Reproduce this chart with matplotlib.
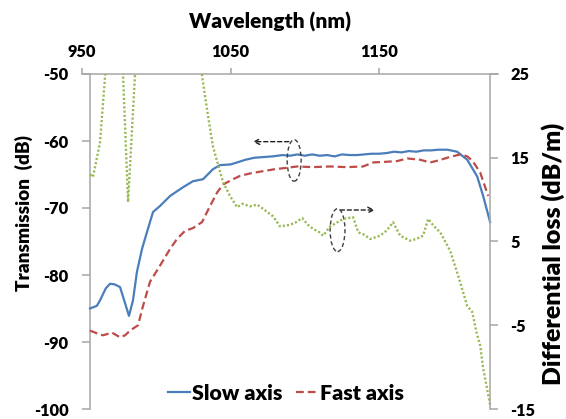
import matplotlib
matplotlib.use("Agg")
import matplotlib.pyplot as plt
from matplotlib.patches import Ellipse

WEIGHT = 'heavy'
plt.rcParams['font.family'] = ['Lato', 'DejaVu Sans']
plt.rcParams['font.weight'] = WEIGHT
plt.rcParams['axes.unicode_minus'] = False

# ---- data ----
slow_wl = [955.4, 960, 962.1, 966, 968.9, 972, 975.6, 978, 981.6, 984.3, 987.0, 990.4, 994.4,
           997.8, 1002.5, 1009.3, 1018.0, 1024.7, 1031.5, 1038.2, 1042.9, 1050, 1054.4, 1060,
           1066, 1072, 1078, 1085, 1090, 1095, 1100, 1105, 1110, 1115, 1120, 1125, 1130, 1135,
           1140, 1145, 1150, 1155, 1160, 1165, 1170, 1175, 1180, 1185, 1190, 1196, 1202.5,
           1209.3, 1216, 1220, 1224.7]
slow_db = [-85.0, -84.6, -83.8, -82.0, -81.3, -81.4, -81.8, -83.5, -86.1, -83.8, -79.5, -76.1,
           -73.1, -70.6, -69.7, -68.2, -66.9, -66.0, -65.7, -64.2, -63.6, -63.5, -63.2, -62.8,
           -62.5, -62.4, -62.3, -62.1, -62.2, -62.0, -62.2, -62.0, -62.2, -62.1, -62.3, -62.0,
           -62.1, -62.1, -62.0, -61.9, -61.9, -61.8, -61.6, -61.7, -61.5, -61.6, -61.4, -61.4,
           -61.3, -61.3, -61.6, -62.8, -65.3, -68.2, -72.1]

fast_wl = [955.4, 960, 964.1, 970.2, 975.6, 979, 982.3, 987.7, 991.1, 995.8, 1002.5, 1009.3,
           1014, 1019.4, 1024.7, 1030.8, 1036.2, 1040.9, 1044.9, 1051.7, 1056.4, 1064, 1071.9,
           1080, 1088, 1094.8, 1105, 1117, 1128, 1139.2, 1146, 1155, 1162.1, 1168.9, 1177.6,
           1184.3, 1190, 1195.8, 1204.5, 1209.3, 1213, 1218, 1223.4]
fast_db = [-88.3, -88.7, -89.0, -88.6, -89.3, -89.0, -88.3, -87.5, -84.6, -81.0, -78.6, -76.1,
           -74.6, -73.4, -73.0, -72.1, -69.7, -67.7, -66.5, -65.7, -65.2, -64.8, -64.5, -64.2,
           -64.0, -63.8, -63.9, -63.8, -63.9, -63.8, -63.2, -63.1, -63.0, -62.6, -62.8, -63.2,
           -62.9, -62.5, -62.0, -62.3, -63.0, -64.7, -68.2]

diff_wl = [955.4, 957.4, 962.1, 965.5, 968, 975, 977.6, 981, 985.7, 988, 1027, 1030.8, 1034.2,
           1038.2, 1044.9, 1049.7, 1054.4, 1058, 1063.1, 1068, 1071.9, 1078.6, 1083.3, 1090.1,
           1094, 1098.2, 1102, 1105.6, 1109, 1112.3, 1117, 1121, 1125.8, 1132.5, 1135.9, 1140,
           1144, 1150.7, 1155, 1159.4, 1164.1, 1170.9, 1175, 1179.6, 1183, 1187, 1191.1,
           1197.8, 1203.2, 1209.3, 1212.6, 1216, 1218, 1220, 1223.4, 1224.7]
diff_loss = [13.0, 12.7, 16.8, 24.6, 33, 33, 25, 9.7, 25, 33, 33, 24.8, 20.7, 16.3, 12.1, 10.4,
             9.1, 9.5, 9.2, 9.4, 8.9, 8.0, 6.8, 7.0, 7.3, 7.8, 7.0, 6.5, 6.2, 5.7, 6.8, 7.2, 7.7,
             7.9, 6.1, 5.8, 5.3, 5.7, 6.3, 7.3, 5.7, 5.1, 5.3, 5.7, 7.7, 6.8, 6.1, 3.9, 0.9,
             -2.7, -3.4, -6.2, -7.4, -10.1, -13.3, -14.5]

x_ticks = [950, 1050, 1150]
left_ticks = [-100, -90, -80, -70, -60, -50]
right_ticks = [-15, -5, 5, 15, 25]

# ---- figure ----
W, H = 566, 419
fig = plt.figure(figsize=(W / 100, H / 100), dpi=100)
ax = fig.add_axes([82 / W, 10 / H, 416 / W, 335 / H])
ax2 = ax.twinx()
renderer = fig.canvas.get_renderer()


def fit(t, target, dim='w'):
    for _ in range(3):
        bb = t.get_window_extent(renderer)
        cur = bb.width if dim == 'w' else bb.height
        t.set_fontsize(t.get_fontsize() * target / cur)
    return t.get_fontsize()


def measure_size(s, target):
    t = fig.text(0.5, 0.5, s, fontsize=12, fontweight=WEIGHT)
    size = fit(t, target)
    t.remove()
    return size


tick_fs = measure_size('1050', 38)
leg_fs = measure_size('Fast axis', 84)

spine_c = '#a6a6a6'
blue = '#4a7ebb'
red = '#be4b48'
green = '#98b954'

l1, = ax.plot(slow_wl, slow_db, color=blue, lw=1.6, label='Slow axis', zorder=3)
l2, = ax.plot(fast_wl, fast_db, color=red, lw=1.6, ls=(0, (3.5, 1.8)), label='Fast axis', zorder=3)
ax2.plot(diff_wl, diff_loss, color=green, lw=1.7, ls=(0, (0.9, 0.9)), zorder=2)

ax.set_xlim(950, 1230)
ax.set_ylim(-100, -50)
ax2.set_ylim(-15, 25)

ax.xaxis.tick_top()
ax.set_xticks(x_ticks)
ax.set_yticks(left_ticks)
ax2.set_yticks(right_ticks)

for a in (ax, ax2):
    for s in a.spines.values():
        s.set_color(spine_c)
        s.set_linewidth(1.1)
    a.tick_params(colors=spine_c, labelcolor='black', labelsize=tick_fs, width=1.1, length=6,
                  direction='out')
ax.tick_params(axis='x', pad=6, length=4)
ax.tick_params(axis='y', pad=9.5)
ax2.tick_params(axis='y', pad=8.5)

ax.spines['bottom'].set_visible(False)
ax.spines['right'].set_visible(False)
ax.spines['left'].set_position(('data', 955.4))
ax2.spines['bottom'].set_visible(False)
ax2.spines['top'].set_visible(False)
ax2.spines['left'].set_visible(False)
ax2.spines['right'].set_position(('data', 1224.7))

for lab in ax.get_xticklabels() + ax.get_yticklabels() + ax2.get_yticklabels():
    lab.set_fontweight(WEIGHT)

# axis titles (placed like the reference)
t_x = fig.text(270 / W, 1 - 22 / H, 'Wavelength (nm)', ha='center', va='center',
               fontsize=14, fontweight=WEIGHT)
fit(t_x, 162)
t_l = fig.text(24 / W, 1 - 213 / H, 'Transmission  (dB)', ha='center', va='center',
               rotation=90, fontsize=14, fontweight=WEIGHT)
fit(t_l, 155, 'h')
t_r = fig.text(553 / W, 1 - 254 / H, 'Differential loss (dB/m)', ha='center', va='center',
               rotation=90, fontsize=14, fontweight=WEIGHT)
fit(t_r, 262, 'h')

# annotations
ax.add_patch(Ellipse((1092.8, -62.9), 9.4, 6.2, fill=False, ls=(0, (3, 2)), lw=1.0,
                     edgecolor='#404040', zorder=4))
ax.annotate('', xy=(1063, -60.1), xytext=(1091, -60.1),
            arrowprops=dict(arrowstyle='->', ls=(0, (3, 2)), lw=1.0, color='#202020'))
ax.add_patch(Ellipse((1122, -73.3), 10, 6.4, fill=False, ls=(0, (3, 2)), lw=1.0,
                     edgecolor='#404040', zorder=4))
ax.annotate('', xy=(1149, -70.3), xytext=(1122, -70.3),
            arrowprops=dict(arrowstyle='->', ls=(0, (3, 2)), lw=1.0, color='#202020'))

leg_px = leg_fs * 100 / 72
leg = fig.legend(handles=[l1, l2], loc='center', bbox_to_anchor=(286 / W, 1 - 393 / H), ncol=2,
                 frameon=False, handlelength=22 / leg_px, handletextpad=2 / leg_px,
                 columnspacing=13 / leg_px, borderpad=0, borderaxespad=0,
                 prop={'weight': WEIGHT, 'size': leg_fs})

fig.savefig('out.png', dpi=100)
